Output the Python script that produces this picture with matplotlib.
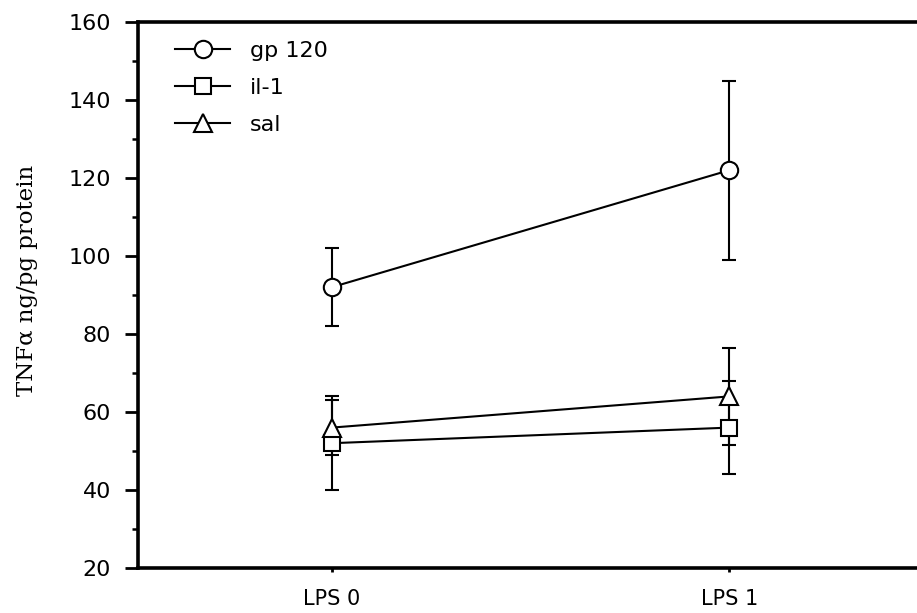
import matplotlib
matplotlib.use("Agg")
import matplotlib.pyplot as plt
from matplotlib.ticker import MultipleLocator

categories = ["LPS 0", "LPS 1"]
gp120 = [92, 122]
gp120_err = [10, 23]
il1 = [52, 56]
il1_err = [12, 12]
sal = [56, 64]
sal_err = [7, 12.5]
series_names = ["gp 120", "il-1", "sal"]

fig = plt.figure(figsize=(9.17, 6.13), dpi=100)
ax = fig.add_axes([138 / 917, 1 - 568 / 613, 1 - 138 / 917 + 0.01, 546 / 613])

x = list(range(len(categories)))
common = dict(color="black", lw=1.5, mfc="white", mec="black", mew=1.5,
              ecolor="black", elinewidth=1.5, capsize=5, capthick=1.5)
ax.errorbar(x, gp120, yerr=gp120_err, marker="o", ms=12.5, label=series_names[0], **common)
ax.errorbar(x, il1, yerr=il1_err, marker="s", ms=11, label=series_names[1], **common)
ax.errorbar(x, sal, yerr=sal_err, marker="^", ms=13, label=series_names[2], **common)

ax.set_xlim((138 - 332) / 398, (927 - 332) / 398)
ax.set_ylim(20, 160)
ax.set_xticks(x)
ax.set_xticklabels(categories)
ax.yaxis.set_major_locator(MultipleLocator(20))
ax.yaxis.set_minor_locator(MultipleLocator(10))
ax.tick_params(axis="y", which="major", length=9.5, width=2, labelsize=16, direction="out", pad=10)
ax.tick_params(axis="y", which="minor", length=4.5, width=1.8, direction="out")
ax.tick_params(axis="x", which="major", length=3, width=2, labelsize=15, direction="out", pad=12)
for s in ["left", "bottom", "top"]:
    ax.spines[s].set_linewidth(2.6)
ax.spines["right"].set_visible(False)

ax.set_ylabel("TNFα ng/pg protein", family="DejaVu Serif", fontsize=16.5)
ax.yaxis.set_label_coords(-0.127, 0.526)

handles, labels = ax.get_legend_handles_labels()
handles = [h[0] for h in handles]
ax.legend(handles, labels, loc="upper left", frameon=False, fontsize=16,
          bbox_to_anchor=(0.047, 0.966), borderaxespad=0, borderpad=0,
          handlelength=2.48, labelspacing=0.78, handletextpad=0.9)

fig.savefig("out.png", dpi=100)
